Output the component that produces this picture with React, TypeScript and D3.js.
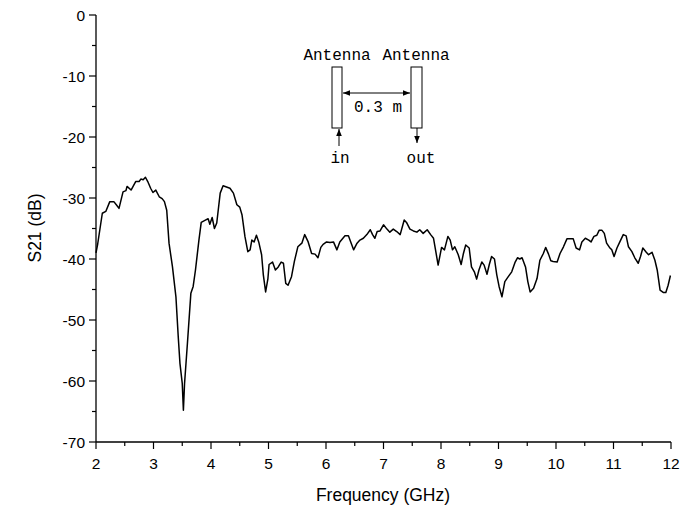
import React from 'react';
import * as d3 from 'd3';

const freq = [
  2.00, 2.03, 2.07, 2.11, 2.17, 2.24, 2.31, 2.36, 2.40, 2.47, 2.52, 2.54, 2.61, 2.69, 2.75, 2.78, 2.82, 2.86, 2.90, 2.95,
  2.99, 3.04, 3.10, 3.15, 3.19, 3.23, 3.27, 3.33, 3.39, 3.43, 3.46, 3.50, 3.52, 3.54, 3.59, 3.65, 3.69, 3.73, 3.79, 3.83,
  3.91, 3.95, 3.98, 4.02, 4.06, 4.10, 4.16, 4.21, 4.27, 4.33, 4.39, 4.45, 4.50, 4.54, 4.59, 4.64, 4.68, 4.71, 4.75, 4.79,
  4.83, 4.88, 4.91, 4.95, 4.99, 5.01, 5.07, 5.12, 5.17, 5.22, 5.26, 5.30, 5.34, 5.40, 5.45, 5.51, 5.58, 5.63, 5.69, 5.75,
  5.81, 5.86, 5.91, 5.95, 6.01, 6.07, 6.13, 6.19, 6.24, 6.33, 6.39, 6.43, 6.48, 6.54, 6.59, 6.65, 6.71, 6.77, 6.81, 6.85,
  6.89, 6.94, 7.00, 7.06, 7.11, 7.17, 7.23, 7.29, 7.36, 7.40, 7.46, 7.52, 7.58, 7.63, 7.69, 7.76, 7.82, 7.87, 7.91, 7.95,
  8.01, 8.06, 8.12, 8.16, 8.20, 8.24, 8.30, 8.35, 8.39, 8.43, 8.49, 8.53, 8.58, 8.62, 8.66, 8.71, 8.75, 8.80, 8.84, 8.88,
  8.93, 8.97, 9.01, 9.06, 9.11, 9.17, 9.23, 9.29, 9.33, 9.37, 9.41, 9.47, 9.51, 9.55, 9.61, 9.67, 9.72, 9.78, 9.82, 9.87,
  9.91, 9.95, 10.02, 10.07, 10.13, 10.19, 10.26, 10.30, 10.35, 10.41, 10.45, 10.51, 10.57, 10.61, 10.66, 10.71, 10.75, 10.80, 10.84, 10.88,
  10.93, 10.97, 11.01, 11.06, 11.11, 11.17, 11.22, 11.26, 11.32, 11.37, 11.43, 11.47, 11.51, 11.57, 11.61, 11.67, 11.72, 11.76, 11.81, 11.87,
  11.91, 11.95, 11.99
];
const s21 = [
  -39.0, -37.5, -35.0, -32.5, -32.2, -30.6, -30.6, -31.2, -31.7, -29.0, -28.8, -28.1, -28.7, -27.3, -27.3, -26.9, -27.0, -26.6, -27.3, -28.4,
  -29.1, -28.7, -29.8, -30.1, -30.6, -32.0, -37.4, -41.3, -46.2, -52.7, -57.1, -60.4, -64.8, -60.4, -53.8, -45.6, -44.5, -41.8, -36.9, -34.0,
  -33.6, -33.4, -34.3, -33.2, -35.0, -34.1, -29.2, -28.0, -28.2, -28.4, -29.2, -31.1, -31.5, -32.8, -36.3, -38.8, -38.5, -36.9, -37.2, -36.1,
  -37.2, -39.3, -42.6, -45.4, -43.2, -40.9, -40.5, -41.8, -41.3, -40.5, -40.7, -44.0, -44.3, -42.9, -40.4, -38.0, -37.4, -36.0, -37.2, -39.1,
  -39.2, -39.8, -38.1, -37.6, -37.2, -37.3, -37.2, -38.5, -37.2, -36.2, -36.2, -37.2, -38.5, -37.4, -36.9, -36.6, -36.0, -35.2, -36.0, -36.6,
  -35.5, -35.4, -34.4, -35.1, -35.6, -35.1, -35.5, -36.0, -33.6, -34.0, -35.1, -35.4, -35.6, -35.2, -35.8, -35.2, -36.0, -36.6, -38.8, -41.0,
  -38.1, -38.5, -36.3, -36.9, -38.5, -38.0, -39.3, -40.9, -39.1, -37.7, -38.2, -41.3, -42.1, -43.3, -41.8, -40.5, -41.0, -42.5, -40.9, -39.6,
  -40.0, -42.6, -44.5, -46.2, -43.7, -42.9, -42.1, -40.5, -39.8, -40.0, -39.8, -41.3, -43.7, -45.4, -44.8, -43.2, -40.2, -39.1, -38.1, -39.2,
  -40.3, -40.4, -40.5, -39.1, -38.0, -36.7, -36.7, -36.7, -38.2, -38.5, -37.2, -36.6, -36.9, -37.2, -36.3, -36.1, -35.3, -35.3, -35.8, -37.4,
  -38.1, -38.5, -39.6, -38.2, -37.2, -36.0, -36.2, -38.0, -38.8, -39.8, -40.7, -39.6, -38.2, -38.9, -39.3, -38.9, -40.2, -41.8, -45.1, -45.5,
  -45.5, -44.3, -42.7
];

const xTicks = [2, 3, 4, 5, 6, 7, 8, 9, 10, 11, 12];
const yTicks = [0, -10, -20, -30, -40, -50, -60, -70];

const W = 682;
const H = 512;
const left = 96, right = 671, top = 15, bottom = 442;

const x = d3.scaleLinear().domain([2, 12]).range([left, right]);
const y = d3.scaleLinear().domain([-70, 0]).range([bottom, top]);

const sans = '"Liberation Sans", Arial, sans-serif';
const mono = '"Liberation Mono", "DejaVu Sans Mono", monospace';

export default function App() {
  const line = d3.line<number>()
    .x((d, i) => x(freq[i]))
    .y((d) => y(d));

  const xMinor = d3.range(2.5, 12, 1);
  const yMinor = d3.range(-65, 0, 10);

  return (
    <svg width={W} height={H} style={{ position: 'absolute', left: 0, top: 0, background: '#fff' }}>
      {/* axes */}
      <line x1={left} x2={left} y1={top} y2={bottom} stroke="#000" strokeWidth={1.3} />
      <line x1={left} x2={right} y1={bottom} y2={bottom} stroke="#000" strokeWidth={1.3} />

      {yTicks.map(t => (
        <g key={'y' + t}>
          <line x1={left - 7} x2={left} y1={y(t)} y2={y(t)} stroke="#000" strokeWidth={1.2} />
          <text x={left - 11} y={y(t) + 5.5} textAnchor="end" fontFamily={sans} fontSize={15.5}>{t}</text>
        </g>
      ))}
      {yMinor.map(t => (
        <line key={'ym' + t} x1={left - 4} x2={left} y1={y(t)} y2={y(t)} stroke="#000" strokeWidth={1.2} />
      ))}
      {xTicks.map(t => (
        <g key={'x' + t}>
          <line x1={x(t)} x2={x(t)} y1={bottom} y2={bottom + 7} stroke="#000" strokeWidth={1.2} />
          <text x={x(t)} y={469} textAnchor="middle" fontFamily={sans} fontSize={15.5}>{t}</text>
        </g>
      ))}
      {xMinor.map(t => (
        <line key={'xm' + t} x1={x(t)} x2={x(t)} y1={bottom} y2={bottom + 4} stroke="#000" strokeWidth={1.2} />
      ))}

      <text x={383} y={501} textAnchor="middle" fontFamily={sans} fontSize={17.5}>Frequency (GHz)</text>
      <text transform="translate(41,228) rotate(-90)" textAnchor="middle" fontFamily={sans} fontSize={17.5}>S21 (dB)</text>

      {/* data */}
      <path d={line(s21) || ''} fill="none" stroke="#000" strokeWidth={1.5} strokeLinejoin="round" />

      {/* inset sketch */}
      <defs>
        <marker id="ah" viewBox="0 0 10 10" refX="10" refY="5" markerWidth="7" markerHeight="7" orient="auto-start-reverse">
          <path d="M0,1 L10,5 L0,9 z" fill="#000" />
        </marker>
      </defs>
      <g fontFamily={mono} fontSize={16}>
        <text x={337} y={60} textAnchor="middle">Antenna</text>
        <text x={416} y={60} textAnchor="middle">Antenna</text>
        <text x={378} y={112} textAnchor="middle">0.3 m</text>
        <text x={340} y={163} textAnchor="middle">in</text>
        <text x={421} y={163} textAnchor="middle">out</text>
      </g>
      <rect x={332} y={67} width={10} height={61} fill="none" stroke="#000" strokeWidth={1} />
      <rect x={411} y={67} width={11} height={61} fill="none" stroke="#000" strokeWidth={1} />
      <line x1={343} x2={410} y1={93} y2={93} stroke="#000" strokeWidth={1} markerStart="url(#ah)" markerEnd="url(#ah)" />
      <line x1={339} x2={339} y1={146} y2={129} stroke="#000" strokeWidth={1} markerEnd="url(#ah)" />
      <line x1={417} x2={417} y1={128} y2={143} stroke="#000" strokeWidth={1} markerEnd="url(#ah)" />
    </svg>
  );
}
